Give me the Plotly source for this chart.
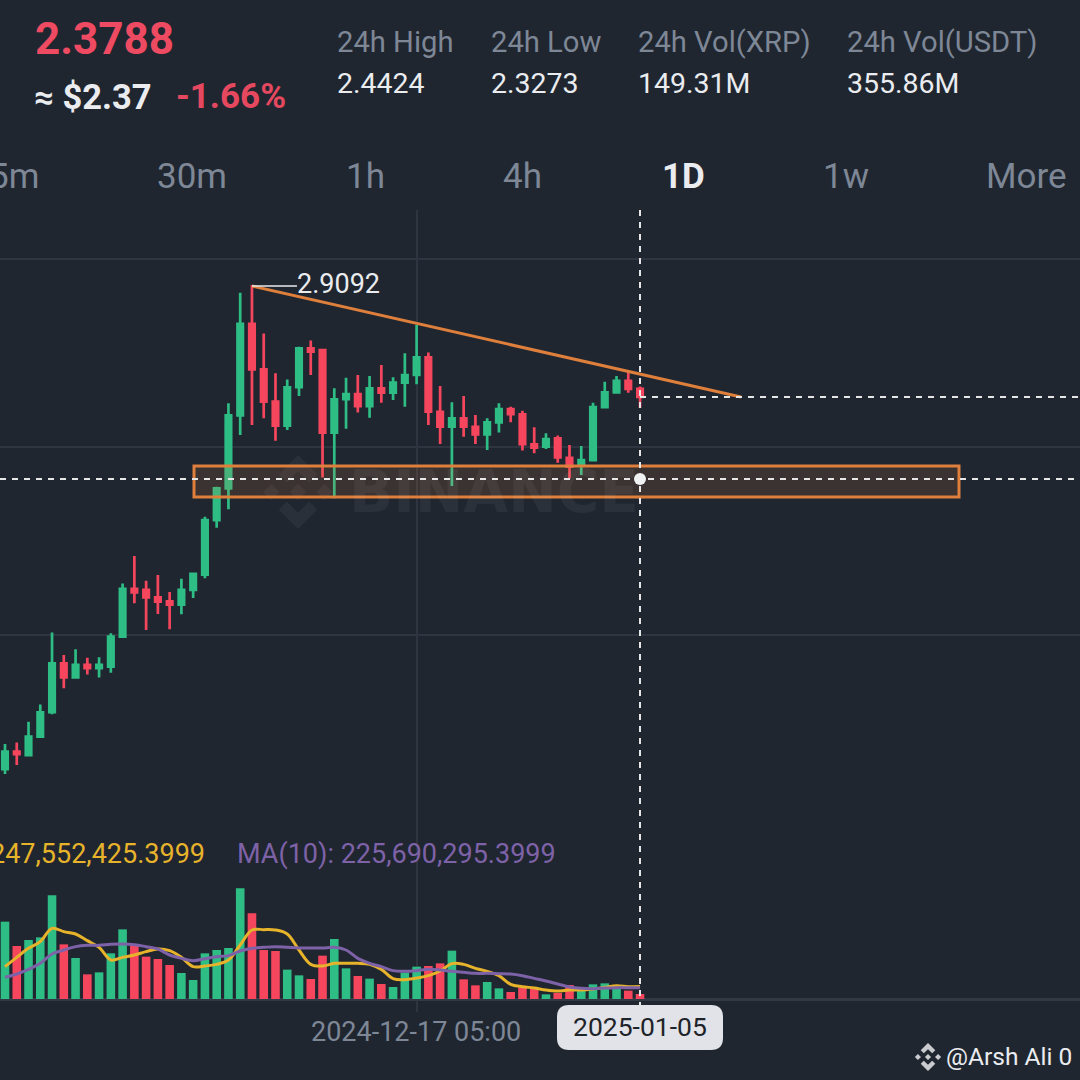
import pandas as pd
import plotly.graph_objects as go

# daily candles
start_date = "2024-11-12"
opens = [0.616, 0.699, 0.683, 0.770, 0.886, 1.118, 1.051, 1.110, 1.095, 1.102, 1.244, 1.470, 1.465, 1.430, 1.411,
         1.395, 1.465, 1.537, 1.796, 1.946, 2.292, 2.725, 2.510, 2.357, 2.243, 2.425, 2.609, 2.601, 2.210, 2.369,
         2.393, 2.336, 2.420, 2.399, 2.447, 2.483, 2.567, 2.309, 2.238, 2.278, 2.238, 2.202, 2.259, 2.322, 2.297,
         2.155, 2.144, 2.183, 2.091, 2.057, 2.080, 2.331, 2.401, 2.455, 2.417]
highs = [0.735, 0.743, 0.841, 0.923, 1.264, 1.157, 1.184, 1.144, 1.146, 1.260, 1.496, 1.626, 1.509, 1.536, 1.455,
         1.518, 1.544, 1.812, 1.954, 2.349, 2.873, 2.9092, 2.680, 2.491, 2.462, 2.617, 2.646, 2.605, 2.420, 2.470,
         2.483, 2.478, 2.530, 2.472, 2.586, 2.720, 2.590, 2.431, 2.354, 2.384, 2.294, 2.278, 2.349, 2.333, 2.314,
         2.235, 2.207, 2.196, 2.151, 2.147, 2.352, 2.451, 2.478, 2.499, 2.428]
lows = [0.593, 0.636, 0.679, 0.767, 0.876, 0.999, 1.051, 1.065, 1.051, 1.073, 1.244, 1.402, 1.275, 1.351, 1.279,
        1.350, 1.427, 1.520, 1.760, 1.847, 2.199, 2.246, 2.278, 2.172, 2.223, 2.384, 2.483, 1.998, 1.899, 2.229,
        2.305, 2.281, 2.352, 2.365, 2.333, 2.439, 2.246, 2.156, 1.957, 2.191, 2.156, 2.128, 2.211, 2.259, 2.125,
        2.112, 2.133, 2.068, 1.994, 2.009, 2.080, 2.330, 2.396, 2.399, 2.3273]
closes = [0.699, 0.687, 0.770, 0.885, 1.118, 1.051, 1.110, 1.095, 1.110, 1.244, 1.470, 1.454, 1.430, 1.410, 1.395,
          1.465, 1.541, 1.796, 1.946, 2.292, 2.725, 2.510, 2.357, 2.243, 2.425, 2.609, 2.593, 2.210, 2.368, 2.393,
          2.336, 2.420, 2.399, 2.447, 2.483, 2.567, 2.309, 2.238, 2.278, 2.238, 2.202, 2.259, 2.322, 2.297, 2.155,
          2.139, 2.180, 2.093, 2.049, 2.080, 2.331, 2.401, 2.455, 2.417, 2.3788]

# volume and its moving averages, in millions
volumes = [1547, 1060, 1180, 1233, 2073, 1093, 820, 493, 533, 913, 1393, 1080, 847, 800, 680, 520, 380, 913, 980,
           1020, 2213, 1713, 980, 960, 587, 473, 400, 867, 1200, 613, 460, 407, 300, 240, 527, 647, 660, 713, 967,
           393, 273, 340, 213, 140, 227, 200, 93, 120, 280, 180, 293, 313, 267, 167, 100]
ma5 = [647, 833, 1013, 1147, 1413, 1347, 1300, 1167, 1033, 780, 833, 880, 947, 1000, 967, 833, 647, 660, 693, 780,
       1080, 1380, 1387, 1380, 1300, 980, 693, 660, 713, 713, 713, 693, 593, 407, 387, 420, 467, 560, 707, 693,
       613, 553, 467, 293, 247, 220, 180, 160, 180, 180, 200, 233, 267, 247, 248]
ma10 = [433, 500, 593, 713, 900, 980, 1047, 1073, 1073, 1093, 1100, 1087, 1047, 1000, 880, 813, 767, 807, 847, 867,
        960, 1013, 1033, 1047, 1033, 1020, 1020, 1020, 1033, 980, 813, 713, 647, 567, 553, 567, 593, 580, 553, 533,
        513, 513, 507, 500, 467, 413, 360, 300, 240, 213, 207, 220, 227, 227, 226]

price_ticks = [3.0324, 2.1420, 1.2517, 0.3613]
time_tick = "2024-12-17"
tabs = ["30m", "1h", "4h", "1w", "More"]
tab_x = [156, 345, 502, 822, 985]
stat_names = ["24h High", "24h Low", "24h Vol(XRP)", "24h Vol(USDT)"]
stat_values = ["2.4424", "2.3273", "149.31M", "355.86M"]
stat_x = [336, 490, 637, 846]

BG = "#1F2630"
GREEN = "#2EBD85"
RED = "#F6465D"
GREY = "#7E8796"
WHITE = "#EAECEF"
ORANGE = "#DE7F3C"
GRID = "#2E3440"
FONT = "Roboto"

dates = pd.date_range(start_date, periods=len(opens))
bar_colors = [GREEN if c >= o else RED for o, c in zip(opens, closes)]


# the screenshot is laid out in pixels, so overlays go in via these two
def px(x):
    return x / 1080


def py(y):
    return 1 - y / 1080


def logo_path(cx, cy, r):
    polys = [
        [(0, -1), (.52, -.48), (.3, -.26), (0, -.56), (-.3, -.26), (-.52, -.48)],
        [(0, 1), (.52, .48), (.3, .26), (0, .56), (-.3, .26), (-.52, .48)],
        [(0, -.22), (.22, 0), (0, .22), (-.22, 0)],
        [(-.72, -.22), (-.5, 0), (-.72, .22), (-.94, 0)],
        [(.72, -.22), (.94, 0), (.72, .22), (.5, 0)],
    ]
    path = ""
    for poly in polys:
        pts = [f"{px(cx + a * r):.5f},{py(cy + b * r):.5f}" for a, b in poly]
        path += "M" + " L".join(pts) + " Z "
    return path


fig = go.Figure()

fig.add_trace(go.Candlestick(
    x=dates, open=opens, high=highs, low=lows, close=closes,
    increasing=dict(line=dict(color=GREEN, width=2.7), fillcolor=GREEN),
    decreasing=dict(line=dict(color=RED, width=2.7), fillcolor=RED),
    whiskerwidth=0, showlegend=False, xaxis="x", yaxis="y",
))
fig.add_trace(go.Bar(x=dates, y=volumes, marker=dict(color=bar_colors, line_width=0), showlegend=False,
                     xaxis="x2", yaxis="y2"))
fig.add_trace(go.Scatter(x=dates, y=ma5, mode="lines", line=dict(color="#E6B32B", width=3, shape="spline"),
                         showlegend=False, xaxis="x2", yaxis="y2"))
fig.add_trace(go.Scatter(x=dates, y=ma10, mode="lines", line=dict(color="#7E62A8", width=3, shape="spline"),
                         showlegend=False, xaxis="x2", yaxis="y2"))

x_range = ["2024-11-11 13:48", "2025-02-11 09:50"]
shapes = []
annotations = []


def label(x, y, text, size, color, anchor="left", family=FONT):
    annotations.append(dict(x=px(x), y=py(y), xref="paper", yref="paper", text=text, showarrow=False,
                            xanchor=anchor, yanchor="middle", borderpad=0,
                            font=dict(family=family, size=size, color=color)))


def line(x0, y0, x1, y1, color, width, dash="solid"):
    shapes.append(dict(type="line", xref="paper", yref="paper", x0=px(x0), y0=py(y0), x1=px(x1), y1=py(y1),
                       line=dict(color=color, width=width, dash=dash)))


# watermark behind everything
shapes.append(dict(type="path", xref="paper", yref="paper", path=logo_path(298, 492, 37),
                   fillcolor="#2A303A", line_width=0, layer="below"))
label(348, 492, "<b>BINANCE</b>", 58, "rgba(255,255,255,0.05)", family="DejaVu Sans")

# drawings on the chart
shapes.append(dict(type="rect", xref="paper", yref="paper", x0=px(194), y0=py(466), x1=px(959), y1=py(497),
                   fillcolor="rgba(222,127,60,0.15)", line=dict(color=ORANGE, width=3)))
line(252, 286, 741, 397, ORANGE, 3)
line(252, 286, 297, 286, WHITE, 1.5)
label(296, 284, "2.9092", 27, WHITE)

# crosshair
line(640, 210, 640, 1006, "#E6E6E6", 2, "6px,6px")
line(0, 479, 1080, 479, "#E6E6E6", 2, "6px,6px")
line(640, 397, 1080, 397, "#E6E6E6", 2, "6px,6px")
shapes.append(dict(type="circle", xref="paper", yref="paper", x0=px(634), y0=py(473), x1=px(646), y1=py(485),
                   fillcolor="#F0F1F3", line_width=0))

# date pill
r = 12
shapes.append(dict(type="path", xref="paper", yref="paper", fillcolor="#E1E3E8", line_width=0,
                   path=f"M{px(557 + r)},{py(1005)} L{px(723 - r)},{py(1005)} Q{px(723)},{py(1005)} {px(723)},{py(1005 + r)} "
                        f"L{px(723)},{py(1050 - r)} Q{px(723)},{py(1050)} {px(723 - r)},{py(1050)} "
                        f"L{px(557 + r)},{py(1050)} Q{px(557)},{py(1050)} {px(557)},{py(1050 - r)} "
                        f"L{px(557)},{py(1005 + r)} Q{px(557)},{py(1005)} {px(557 + r)},{py(1005)} Z"))
label(640, 1026, "2025-01-05", 26.5, "#1E2329", "center")
label(416, 1032, "2024-12-17 05:00", 27, GREY, "center")

# header
label(34, 39, "<b>2.3788</b>", 44, "#EE4B62")
label(33, 97, "<b>≈ $2.37</b>", 34.5, WHITE)
label(175, 97, "<b>-1.66%</b>", 35, "#E5485F")
for name, value, x in zip(stat_names, stat_values, stat_x):
    label(x, 42, name, 29.2, GREY)
    label(x, 84, value, 28.5, WHITE)

label(40, 176, "5m", 35, GREY, "right")
for tab, x in zip(tabs, tab_x):
    label(x, 176, tab, 35, GREY)
label(661, 176, "<b>1D</b>", 35, WHITE)

# moving average captions
label(206, 854, "247,552,425.3999", 27, "#E6B32B", "right")
label(236, 854, "MA(10): 225,690,295.3999", 27, "#7E62A8")

# author tag
shapes.append(dict(type="path", xref="paper", yref="paper", path=logo_path(928, 1057, 14),
                   fillcolor="#C9CBCF", line_width=0))
label(945, 1056, "@Arsh Ali 0", 24.5, WHITE)

price_top = 2.98025 + 0.0047358 * (270 - 210)
price_bottom = 2.98025 - 0.0047358 * (823 - 270)

fig.update_layout(
    width=1080, height=1080,
    margin=dict(l=0, r=0, t=0, b=0),
    paper_bgcolor=BG, plot_bgcolor=BG,
    boxgap=0.34,
    bargap=0.27,
    hovermode=False,
    shapes=shapes,
    annotations=annotations,
    xaxis=dict(domain=[0, 1], range=x_range, type="date", rangeslider=dict(visible=False), anchor="y",
               tickvals=[time_tick], showticklabels=False, ticks="", showgrid=True, gridcolor=GRID, gridwidth=1.5,
               zeroline=False, showline=False),
    xaxis2=dict(domain=[0, 1], range=x_range, type="date", matches="x", anchor="y2",
                tickvals=[time_tick], showticklabels=False, ticks="", showgrid=True, gridcolor=GRID, gridwidth=1.5,
                zeroline=False, showline=False),
    yaxis=dict(domain=[py(823), py(210)], range=[price_bottom, price_top], tickvals=price_ticks,
               showticklabels=False, ticks="", showgrid=True, gridcolor=GRID, gridwidth=1.5, zeroline=False,
               showline=False),
    yaxis2=dict(domain=[py(1012), py(823)], range=[-260, 3520], tickvals=[0],
                showticklabels=False, ticks="", showgrid=True, gridcolor="#323844", gridwidth=2.5, zeroline=False,
                showline=False),
)

# the page keeps the browser's default 8px body margin otherwise
fig.write_html("out.html", config={"displayModeBar": False},
               post_script="document.body.style.margin='0';document.documentElement.style.overflow='hidden';")
